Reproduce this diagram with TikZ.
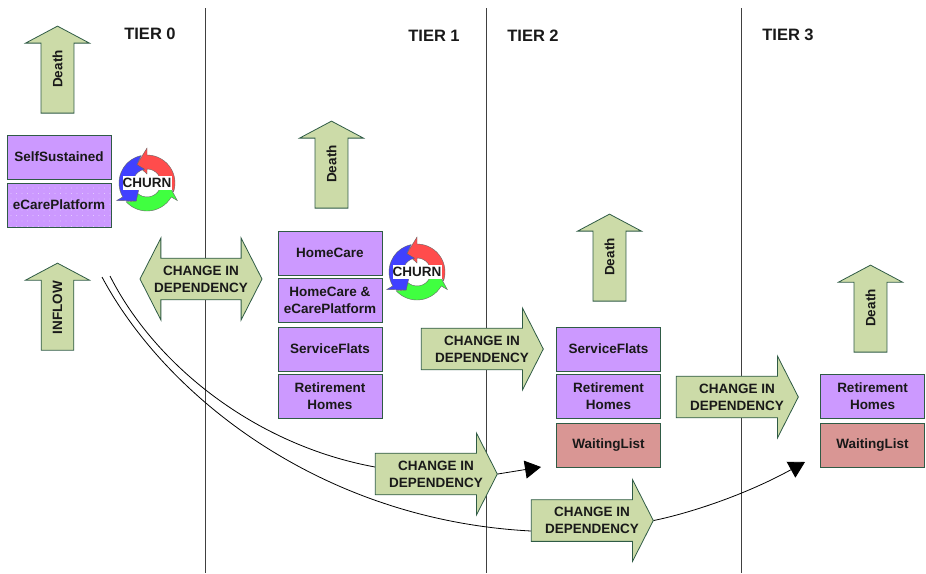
\documentclass[tikz,border=0pt]{standalone}
\usepackage{fontspec}
\setmainfont{Liberation Sans}
\usetikzlibrary{shapes.arrows,arrows.meta,patterns.meta}
\definecolor{boxpurple}{HTML}{CC99FF}
\definecolor{boxred}{HTML}{D99694}
\definecolor{arrowgreen}{HTML}{CCDBA8}
\definecolor{edgegreen}{HTML}{2F5B45}
\newcommand{\changetext}{\hspace*{10pt}CHANGE IN\\\hspace*{10pt}DEPENDENCY}
\newcommand{\churn}[2]{%
  \foreach \c/\r in {red!70!white/0,green!75!white/-120,blue!75!white/120}{
    \begin{scope}[shift={(#1)},rotate=\r]
      \filldraw[draw=black!60,fill=\c,line width=.4pt]
        (90:28pt) arc[start angle=90,end angle=-18,radius=28pt]
        -- (-1:21pt) -- (-20:14pt)
        arc[start angle=-20,end angle=90,radius=14pt]
        -- (90:9pt) -- (119:21pt) -- (90:35pt) -- cycle;
    \end{scope}}
  \node[churnlabel] (#2) at (#1) {CHURN};}
\begin{document}
\begin{tikzpicture}[x=1pt,y=-1pt,
  every node/.style={font=\fontsize{13.5}{17}\selectfont\bfseries,align=center,text=black!90},
  tier/.style={font=\fontsize{16.5}{17}\selectfont\bfseries},
  churnlabel/.style={fill=white,inner sep=0pt,minimum width=49pt,minimum height=14pt},
  stage/.style={draw=edgegreen,line width=.8pt,fill=boxpurple,minimum width=104pt,minimum height=44pt,inner sep=0pt},
  waiting/.style={stage,fill=boxred},
  dotted stage/.style={stage,postaction={pattern={Dots[radius=.45pt,distance=5.5pt]},pattern color=white!75!boxpurple}},
  updeath/.style={single arrow,draw=edgegreen,line width=.8pt,fill=arrowgreen,rotate=90,inner xsep=0pt,inner ysep=11pt,
    minimum height=87pt,minimum width=64pt,single arrow head extend=15.5pt,
    single arrow tip angle=124,single arrow head indent=0pt},
  change/.style={single arrow,draw=edgegreen,line width=.8pt,fill=arrowgreen,inner xsep=0pt,inner ysep=7pt,
    minimum height=122pt,minimum width=82pt,single arrow head extend=20pt,
    single arrow tip angle=126,single arrow head indent=0pt},
  change both/.style={double arrow,draw=edgegreen,line width=.8pt,fill=arrowgreen,inner xsep=0pt,inner ysep=7pt,
    minimum height=122pt,minimum width=82pt,double arrow head extend=20pt,
    double arrow tip angle=126,double arrow head indent=0pt},
  tierline/.style={line width=.7pt,black!75},
  flow/.style={line width=.8pt,black},
  bigtip/.style={-{Triangle[length=16pt,width=18pt]}}]
  \useasboundingbox (0,0) rectangle (926,573);
  \coordinate (L0t) at (205,8);   \coordinate (L0b) at (205,573);
  \coordinate (L1t) at (486,8);   \coordinate (L1b) at (486,573);
  \coordinate (L2t) at (741,8);   \coordinate (L2b) at (741,573);
  \draw[tierline] (L0t) -- (L0b);
  \draw[tierline] (L1t) -- (L1b);
  \draw[tierline] (L2t) -- (L2b);
  \node[tier] (T0) at (150,34) {TIER 0};
  \node[tier] (T1) at (434,36) {TIER 1};
  \node[tier] (T2) at (533,36) {TIER 2};
  \node[tier] (T3) at (788,35) {TIER 3};
  \coordinate (Fa) at (102,277);  \coordinate (Fb) at (110,276);
  \coordinate (Ea) at (541,467);  \coordinate (Eb) at (805,462);
  \node[updeath] (D0) at (57.5,74) {\hspace*{10pt}Death};
  \node[updeath] (In) at (57.5,311) {\hspace*{7pt}INFLOW};
  \node[updeath] (D1) at (331.5,169) {\hspace*{10pt}Death};
  \node[updeath] (D2) at (609.5,262) {\hspace*{10pt}Death};
  \node[updeath] (D3) at (870.5,313) {\hspace*{10pt}Death};
  \node[stage] (S0) at (59,157) {SelfSustained};
  \node[dotted stage] (E0) at (59,205) {eCarePlatform};
  \node[stage] (H1) at (330,253) {HomeCare};
  \node[stage] (B1) at (330,300.5) {HomeCare \&\\eCarePlatform};
  \node[stage] (F1) at (330,349) {ServiceFlats};
  \node[stage] (R1) at (330,396.5) {Retirement\\Homes};
  \node[stage] (F2) at (608.5,349) {ServiceFlats};
  \node[stage] (R2) at (608.5,396.5) {Retirement\\Homes};
  \node[waiting] (W2) at (608.5,445) {WaitingList};
  \node[stage] (R3) at (872.5,396.5) {Retirement\\Homes};
  \node[waiting] (W3) at (872.5,445) {WaitingList};
  \node[change both] (Cb) at (201,279) {CHANGE IN\\DEPENDENCY};
  \node[change] (C1) at (477,349) {\changetext};
  \node[change] (C2) at (732,397) {\changetext};
  \draw[flow] (Fb) .. controls (155,365) and (255,445) .. (375,467);
  \draw[flow] (Fa) .. controls (165,395) and (320,520) .. (531,531);
  \node[change] (C3) at (431,474) {\changetext};
  \node[change] (C4) at (587,520.5) {\changetext};
  \draw[flow,bigtip] (C3.tip) -- (Ea);
  \draw[flow,bigtip] (C4.tip) .. controls (690,513) and (745,495) .. (Eb);
  \churn{147,183}{Ch0}
  \churn{417,272}{Ch1}
\end{tikzpicture}
\end{document}
